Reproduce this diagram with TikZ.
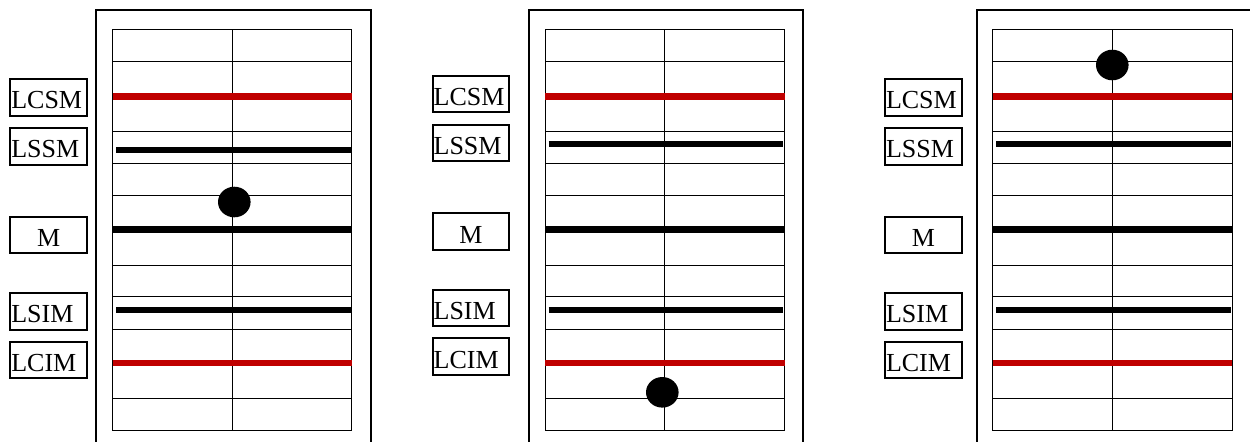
\documentclass[tikz,border=0pt]{standalone}
\usepackage{fontspec}
\setmainfont{Liberation Serif}
\usepackage{tikz}
\usepackage{xcolor}
\definecolor{rosso}{HTML}{C00000}

\begin{document}
\begin{tikzpicture}[x = 0.5pt, y = -0.5pt,
    etichetta/.style = {draw, line width = 1pt, minimum height = 18.2pt, inner xsep = 0.5pt, inner ysep = 0pt,
        text width = 37.35pt, text height = 11.45pt, text depth = 0pt, font = \fontsize{13}{15}\selectfont},
    cornice/.style = {line width = 1pt},
    griglia/.style = {line width = 0.5pt},
    spessa/.style = {line width = 3.4pt}]
    % Parametri
    \pgfmathsetmacro{\largo}{274.4}
    \pgfmathsetmacro{\margine}{16.2}
    \pgfmathsetmacro{\lgriglia}{239.3}
    \useasboundingbox (0,0) rectangle (1250,441);
    % Pannelli: cornice, etichette, posizione del pallino
    \foreach \fx/\ex/\ey/\ys/\px/\py/\nome in {96.3/48.65/0/150/234.3/202/a, 529/471/-3.3/144/662.3/392.3/b, 976.7/923.35/0/144/1112.3/65/c}{
        \pgfmathsetmacro{\gx}{\fx+\margine}
        \pgfmathsetmacro{\gxx}{\gx+\lgriglia}
        \pgfmathsetmacro{\gm}{\gx+\lgriglia/2}
        % Cornice
        \draw[cornice] (\fx,445) -- (\fx,10) -- ({\fx+\largo},10) -- ({\fx+\largo},445);
        % Griglia
        \draw[griglia] (\gx,29.3) rectangle (\gxx,430);
        \draw[griglia] (\gm,29.3) -- (\gm,430);
        \foreach \yy in {61.7,131.7,163.3,195,265,296.7,329,398.3}
            \draw[griglia] (\gx,\yy) -- (\gxx,\yy);
        % Linee
        \draw[spessa, rosso] (\gx,96.3) -- (\gxx,96.3);
        \draw[spessa] ({\gx+3.5},\ys) -- ({\gxx-1.2},\ys);
        \draw[spessa] (\gx,229.7) -- (\gxx,229.7);
        \draw[spessa] ({\gx+3.5},310) -- ({\gxx-1.2},310);
        \draw[spessa, rosso] (\gx,363) -- (\gxx,363);
        % Etichette
        \node[etichetta, align = left] (lcsm-\nome) at (\ex,{97.5+\ey}) {LCSM};
        \node[etichetta, align = left] (lssm-\nome) at (\ex,{146.5+\ey}) {LSSM};
        \node[etichetta, align = center] (m-\nome) at (\ex,{234.85+\ey}) {M};
        \node[etichetta, align = left] (lsim-\nome) at (\ex,{311.3+\ey}) {LSIM};
        \node[etichetta, align = left] (lcim-\nome) at (\ex,{359.85+\ey}) {LCIM};
        % Pallino
        \fill (\px,\py) ellipse [x radius = 8.15pt, y radius = 7.65pt];
    }
\end{tikzpicture}
\end{document}
